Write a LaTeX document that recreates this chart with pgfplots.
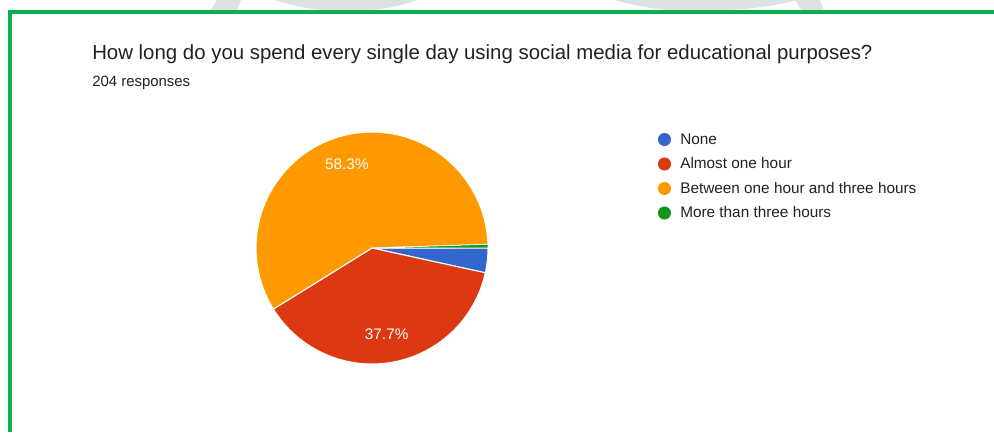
\documentclass[border=0pt]{standalone}
\usepackage{fontspec}
\setmainfont{Liberation Sans}
\usepackage{pgfplots}
\usepackage{pgfplotstable}
\pgfplotsset{compat=1.18}
\definecolor{gblue}{HTML}{3366CC}
\definecolor{gred}{HTML}{DC3912}
\definecolor{gorange}{HTML}{FF9900}
\definecolor{ggreen}{HTML}{109618}
\definecolor{framegreen}{HTML}{0BB04E}
\definecolor{wm}{HTML}{DCE1E5}
\definecolor{ttext}{HTML}{212121}
\definecolor{ltext}{HTML}{222222}

\pgfplotstableread{
label count
None 7
Almost 77
Between 119
More 1
}\piedata

\begin{document}
\begin{tikzpicture}
\pgfplotstablegetelem{0}{count}\of\piedata \pgfmathsetmacro\nA{\pgfplotsretval}
\pgfplotstablegetelem{1}{count}\of\piedata \pgfmathsetmacro\nB{\pgfplotsretval}
\pgfplotstablegetelem{2}{count}\of\piedata \pgfmathsetmacro\nC{\pgfplotsretval}
\pgfplotstablegetelem{3}{count}\of\piedata \pgfmathsetmacro\nD{\pgfplotsretval}
\pgfmathsetmacro\tot{\nA+\nB+\nC+\nD}
\pgfmathsetmacro\aA{0}
\pgfmathsetmacro\aB{\aA-360*(\nA/\tot)}
\pgfmathsetmacro\aC{\aB-360*(\nB/\tot)}
\pgfmathsetmacro\aD{\aC-360*(\nC/\tot)}
\pgfmathsetmacro\aE{\aD-360*(\nD/\tot)}
\def\cx{372}\def\cy{184}\def\rr{116}
\pgfmathsetmacro\mB{(\aB+\aC)/2}
\pgfmathsetmacro\mC{(\aC+\aD)/2}
\pgfmathsetmacro\lBx{\cx+0.75*\rr*cos(\mB)}
\pgfmathsetmacro\lBy{\cy+0.75*\rr*sin(\mB)}
\pgfmathsetmacro\lCx{\cx+0.75*\rr*cos(\mC)}
\pgfmathsetmacro\lCy{\cy+0.75*\rr*sin(\mC)}
\pgfmathsetmacro\pB{100*(\nB/\tot)}
\pgfmathsetmacro\pC{100*(\nC/\tot)}

\begin{axis}[at={(0,0)}, anchor=south west,
  width=745.5pt, height=324pt, scale only axis,
  xmin=0, xmax=994, ymin=0, ymax=432,
  hide axis, clip=false]
\coordinate (BL) at (axis cs:0,0);
\coordinate (TR) at (axis cs:994,432);

% watermark shapes above the frame
\fill[wm] (axis cs:217,432) -- (axis cs:241,432) -- (axis cs:237,421) -- (axis cs:210,421) -- cycle;
\fill[wm] (axis cs:275,432) .. controls (axis cs:300,424) and (axis cs:320,421) .. (axis cs:347,421)
  .. controls (axis cs:374,421) and (axis cs:395,424) .. (axis cs:418,432) -- cycle;
\fill[wm] (axis cs:614,432) .. controls (axis cs:645,424) and (axis cs:665,421) .. (axis cs:690,421)
  .. controls (axis cs:730,421) and (axis cs:770,424) .. (axis cs:797,432) -- cycle;
\fill[wm] (axis cs:795,432) -- (axis cs:820,432) -- (axis cs:824,421) -- (axis cs:802,421) -- cycle;

% frame
\draw[framegreen, line width=3pt] (axis cs:10,0) -- (axis cs:10,420) -- (axis cs:994,420);

% pie slices
\addplot[draw=white, line width=0.8pt, fill=gblue, domain=\aB:\aA, samples=20, variable=\t]
  ({\cx+\rr*cos(\t)},{\cy+\rr*sin(\t)}) -- (axis cs:\cx,\cy) -- cycle;
\addplot[draw=white, line width=0.8pt, fill=gred, domain=\aC:\aB, samples=80, variable=\t]
  ({\cx+\rr*cos(\t)},{\cy+\rr*sin(\t)}) -- (axis cs:\cx,\cy) -- cycle;
\addplot[draw=white, line width=0.8pt, fill=gorange, domain=\aD:\aC, samples=120, variable=\t]
  ({\cx+\rr*cos(\t)},{\cy+\rr*sin(\t)}) -- (axis cs:\cx,\cy) -- cycle;
\addplot[draw=white, line width=0.4pt, fill=ggreen, domain=\aE:\aD, samples=5, variable=\t]
  ({\cx+\rr*cos(\t)},{\cy+\rr*sin(\t)}) -- (axis cs:\cx,\cy) -- cycle;

% slice labels
\node[white, font=\fontsize{11.5pt}{13pt}\selectfont] at (axis cs:\lCx,\lCy)
  {\pgfmathprintnumber[fixed, precision=1, fixed zerofill, assume math mode=true]{\pC}\%};
\node[white, font=\fontsize{11.5pt}{13pt}\selectfont] at (axis cs:\lBx,\lBy)
  {\pgfmathprintnumber[fixed, precision=1, fixed zerofill, assume math mode=true]{\pB}\%};

% titles
\node[anchor=base west, inner sep=0pt, text=ttext, font=\fontsize{15.3pt}{18pt}\selectfont]
  at (axis cs:92,372.7) {How long do you spend every single day using social media for educational purposes?};
\node[anchor=base west, inner sep=0pt, text=ttext, font=\fontsize{11.2pt}{13pt}\selectfont]
  at (axis cs:92,345.3) {204 responses};

% legend
\fill[gblue] (axis cs:664.5,292.5) circle[radius=4.9pt];
\fill[gred] (axis cs:664.5,268) circle[radius=4.9pt];
\fill[gorange] (axis cs:664.5,243.5) circle[radius=4.9pt];
\fill[ggreen] (axis cs:664.5,219) circle[radius=4.9pt];
\node[anchor=base west, inner sep=0pt, text=ltext, font=\fontsize{11.5pt}{13pt}\selectfont]
  at (axis cs:680,287.9) {None};
\node[anchor=base west, inner sep=0pt, text=ltext, font=\fontsize{11.5pt}{13pt}\selectfont]
  at (axis cs:680,263.4) {Almost one hour};
\node[anchor=base west, inner sep=0pt, text=ltext, font=\fontsize{11.5pt}{13pt}\selectfont]
  at (axis cs:680,238.9) {Between one hour and three hours};
\node[anchor=base west, inner sep=0pt, text=ltext, font=\fontsize{11.5pt}{13pt}\selectfont]
  at (axis cs:680,214.4) {More than three hours};
\end{axis}
\pgfresetboundingbox
\path[use as bounding box] (BL) rectangle (TR);
\end{tikzpicture}
\end{document}
